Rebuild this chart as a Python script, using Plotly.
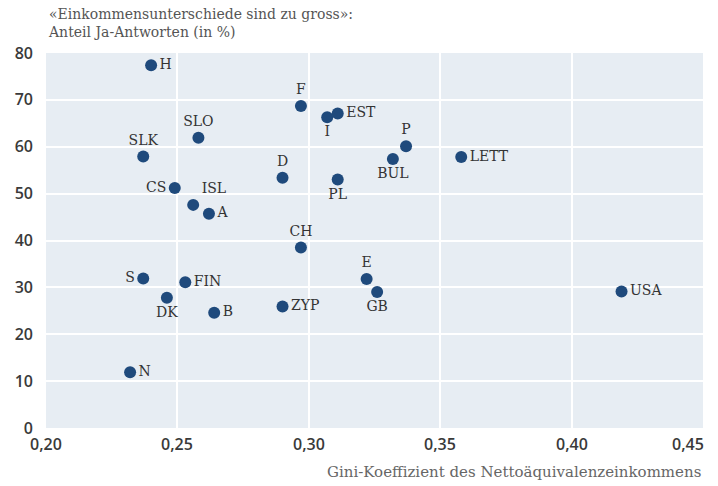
import plotly.graph_objects as go

countries = ["H", "F", "I", "EST", "SLO", "SLK", "D", "P", "BUL", "LETT", "PL",
             "CS", "ISL", "A", "CH", "S", "FIN", "DK", "B", "ZYP", "E", "GB",
             "USA", "N"]
gini = [0.240, 0.297, 0.307, 0.311, 0.258, 0.237, 0.290, 0.337, 0.332, 0.358, 0.311,
        0.249, 0.256, 0.262, 0.297, 0.237, 0.253, 0.246, 0.264, 0.290, 0.322, 0.326,
        0.419, 0.232]
yes_share = [77.4, 68.7, 66.3, 67.1, 61.9, 57.9, 53.4, 60.1, 57.4, 57.8, 53.0,
             51.2, 47.6, 45.7, 38.5, 31.9, 31.1, 27.8, 24.6, 25.9, 31.8, 29.0,
             29.1, 11.9]
label_pos = ["middle right", "top center", "bottom center", "middle right", "top center",
             "top center", "top center", "top center", "bottom center", "middle right",
             "bottom center", "middle left", "top right", "middle right", "top center",
             "middle left", "middle right", "bottom center", "middle right", "middle right",
             "top center", "bottom center", "middle right", "middle right"]

x_ticks = [0.20, 0.25, 0.30, 0.35, 0.40, 0.45]
x_tick_labels = ["0,20", "0,25", "0,30", "0,35", "0,40", "0,45"]
y_ticks = [0, 10, 20, 30, 40, 50, 60, 70, 80]

title_lines = ["«Einkommensunterschiede sind zu gross»:", "Anteil Ja-Antworten (in %)"]
x_title = "Gini-Koeffizient des Nettoäquivalenzeinkommens"

serif = "DejaVu Serif"
sans = "Open Sans"
tick_font = dict(family=sans, size=16, color="#3a3a3a", weight=600)

fig = go.Figure()
fig.add_trace(go.Scatter(
    x=gini, y=yes_share, text=countries, mode="markers+text",
    textposition=label_pos,
    marker=dict(size=12, color="#1f4a7c"),
    textfont=dict(family=serif, size=14, color="#333333"),
    cliponaxis=False, hoverinfo="skip",
))

annotations = [
    dict(text=title_lines[0] + "<br>" + title_lines[1], xref="paper", yref="paper",
         x=0, y=1, xshift=0, yshift=49, xanchor="left", yanchor="top", align="left",
         showarrow=False, font=dict(family=serif, size=14, color="#555555")),
    dict(text=x_title, xref="paper", yref="paper", x=1, y=0, yshift=-33,
         xanchor="right", yanchor="top", showarrow=False,
         font=dict(family=serif, size=15, color="#666666")),
]
for i, (tv, tl) in enumerate(zip(x_ticks, x_tick_labels)):
    last = i == len(x_ticks) - 1
    annotations.append(dict(
        text=tl, x=tv, xref="x", y=0, yref="paper", yshift=-3,
        xanchor="right" if last else "center", xshift=3 if last else 0,
        yanchor="top", showarrow=False, font=tick_font))

fig.update_layout(
    width=718, height=486,
    margin=dict(l=46, r=15, t=53, b=58),
    paper_bgcolor="white", plot_bgcolor="#e7edf3",
    showlegend=False,
    xaxis=dict(range=[0.2, 0.45], tickvals=x_ticks, showticklabels=False,
               showgrid=True, gridcolor="white", gridwidth=2, zeroline=False,
               showline=False, ticks="", automargin=False),
    yaxis=dict(range=[0, 80], tickvals=y_ticks,
               showgrid=True, gridcolor="white", gridwidth=2, zeroline=False,
               showline=False, ticks="", ticklabelstandoff=12, automargin=False,
               tickfont=tick_font),
    annotations=annotations,
)

fig.write_html("out.html", config={"displayModeBar": False},
               post_script="document.body.style.margin='0';")
